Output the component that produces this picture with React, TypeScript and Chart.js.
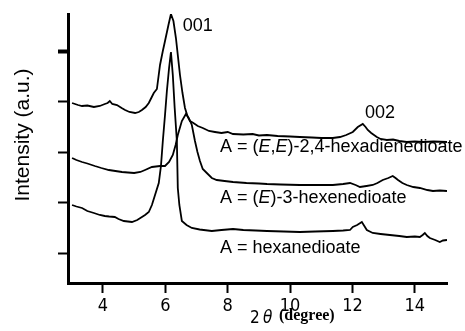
import React, { useEffect, useRef } from "react";
import { Chart, registerables } from "chart.js";

Chart.register(...registerables);

// ---- data (2θ in degrees, intensity in arbitrary units) ----
const hexadienedioateX = [3.01, 3.2, 3.33, 3.5, 3.71, 3.9, 4.06, 4.15, 4.22, 4.3, 4.45, 4.6, 4.71, 4.85, 5.03, 5.15, 5.25, 5.37, 5.47, 5.55, 5.63, 5.73, 5.83, 5.92, 5.99, 6.1, 6.18, 6.26, 6.34, 6.47, 6.55, 6.63, 6.72, 6.79, 6.9, 7.04, 7.2, 7.4, 7.59, 7.8, 8.0, 8.17, 8.5, 8.8, 9.0, 9.26, 9.6, 10.0, 10.31, 10.7, 11.0, 11.37, 11.6, 11.8, 12.01, 12.17, 12.33, 12.42, 12.49, 12.6, 12.78, 12.9, 13.1, 13.3, 13.5, 13.74, 14.0, 14.26, 14.6, 15.03];
const hexadienedioateY = [180, 178, 177, 177.5, 176, 177, 179, 180, 182, 179, 178, 175, 173, 171, 170, 171, 173, 176, 180, 185, 190, 194, 218, 232, 242, 258, 269, 262, 245, 208, 190, 175, 166, 162, 160, 157, 155, 152, 151, 150, 151, 149, 148.5, 149, 147.5, 148, 147, 146.5, 146, 145.5, 145, 145, 146, 148, 151, 156, 159, 156, 153, 150, 146, 144, 143, 143.5, 142, 141, 141.5, 141, 141.5, 141];

const hexenedioateX = [3.01, 3.15, 3.33, 3.5, 3.74, 3.95, 4.19, 4.4, 4.61, 4.8, 5.0, 5.2, 5.35, 5.57, 5.83, 5.99, 6.12, 6.24, 6.33, 6.4, 6.53, 6.66, 6.75, 6.85, 6.95, 7.03, 7.11, 7.2, 7.33, 7.49, 7.65, 7.9, 8.17, 8.6, 9.0, 9.26, 9.7, 10.31, 10.8, 11.37, 11.7, 11.92, 12.1, 12.24, 12.45, 12.65, 12.8, 12.97, 13.15, 13.29, 13.38, 13.46, 13.6, 13.74, 13.95, 14.16, 14.4, 14.58, 14.8, 15.03];
const hexenedioateY = [125, 123, 121, 119.5, 117, 115, 113, 112, 111, 110.5, 110, 111, 113, 116, 117, 117, 121, 128, 138, 148, 162, 169, 165, 158, 142, 131, 122, 114, 110, 105, 103, 102, 101, 100, 99.5, 99, 98.5, 98, 98, 98, 99, 100, 98, 96, 97, 98, 100, 103, 105, 107, 105, 103, 100, 98, 96, 95, 93, 92, 92.5, 92];

const hexanedioateX = [3.01, 3.15, 3.33, 3.5, 3.71, 3.9, 4.06, 4.2, 4.38, 4.5, 4.67, 4.8, 4.93, 5.1, 5.25, 5.35, 5.47, 5.57, 5.67, 5.79, 5.86, 5.92, 5.99, 6.05, 6.12, 6.18, 6.24, 6.3, 6.37, 6.4, 6.45, 6.53, 6.68, 6.85, 7.1, 7.49, 7.8, 8.17, 8.5, 8.9, 9.26, 9.8, 10.31, 10.8, 11.37, 11.7, 11.92, 12.01, 12.15, 12.3, 12.38, 12.46, 12.65, 12.9, 13.2, 13.5, 13.74, 14.0, 14.16, 14.25, 14.32, 14.4, 14.48, 14.65, 14.8, 14.9, 15.03];
const hexanedioateY = [78, 76.5, 75, 72, 70, 68, 67, 66.5, 66, 64, 62, 61.5, 61, 63, 66, 68, 71, 78, 88, 100, 117, 142, 168, 192, 215, 231, 208, 175, 142, 95, 78, 62, 58, 55, 53.5, 52, 53, 54, 53, 52.5, 52, 51.5, 51, 51.5, 52, 52.5, 53, 56, 58, 61, 57, 53, 50, 49, 48, 47, 46, 46.5, 46, 48, 50, 47, 45, 43, 41, 42.5, 43];

const xTickValues = [4, 6, 8, 10, 12, 14];
const yTickValues = [30, 80.5, 131, 181.5, 232];

// annotation texts and anchors (data units)
const peakLabels = ["001", "002"];
const peakLabelX = [6.56, 12.4];
const peakLabelY = [252.5, 165.5];

type Seg = { t: string; i: boolean };
const seriesLabels: Seg[][] = [
  [{ t: "A = (", i: false }, { t: "E", i: true }, { t: ",", i: false }, { t: "E", i: true }, { t: ")-2,4-hexadienedioate", i: false }],
  [{ t: "A = (", i: false }, { t: "E", i: true }, { t: ")-3-hexenedioate", i: false }],
  [{ t: "A = hexanedioate", i: false }],
];
const seriesLabelX = [7.75, 7.75, 7.75];
const seriesLabelY = [131, 80, 30];

const SANS = '"Liberation Sans", Arial, sans-serif';
const NARROW = '"Liberation Sans Narrow", "DejaVu Sans Condensed", "Liberation Sans", sans-serif';
const SERIF = '"Liberation Serif", "Times New Roman", serif';

const textPlugin = {
  id: "textPlugin",
  afterDraw(chart: any) {
    const ctx = chart.ctx as CanvasRenderingContext2D;
    const xs = chart.scales.x;
    const ys = chart.scales.y;
    const area = chart.chartArea;
    ctx.save();
    ctx.fillStyle = "#000";
    ctx.textBaseline = "alphabetic";
    ctx.textAlign = "left";

    // peak labels
    ctx.font = `18px ${SANS}`;
    peakLabels.forEach((t, k) => {
      ctx.fillText(t, xs.getPixelForValue(peakLabelX[k]), ys.getPixelForValue(peakLabelY[k]));
    });

    // series labels with italic E
    seriesLabels.forEach((segs, k) => {
      let px = xs.getPixelForValue(seriesLabelX[k]);
      const py = ys.getPixelForValue(seriesLabelY[k]);
      segs.forEach((s) => {
        ctx.font = `${s.i ? "italic " : ""}18px ${SANS}`;
        ctx.fillText(s.t, px, py);
        px += ctx.measureText(s.t).width;
      });
    });

    // y axis title
    ctx.save();
    ctx.translate(area.left - 45, area.top + 121);
    ctx.rotate(-Math.PI / 2);
    ctx.textAlign = "center";
    ctx.textBaseline = "middle";
    ctx.font = `21px ${SANS}`;
    ctx.fillText("Intensity (a.u.)", 0, 0);
    ctx.restore();

    // x axis title
    const bx = area.left + 182;
    const by = area.bottom + 40;
    ctx.font = `17px ${NARROW}`;
    ctx.fillText("2", bx, by);
    ctx.font = `italic 17px ${NARROW}`;
    ctx.fillText("θ", bx + 13, by);
    ctx.font = `bold 16px ${SERIF}`;
    ctx.fillText("(degree)", bx + 29, by - 3);
    ctx.restore();
  },
};

function toPoints(xs: number[], ys: number[]) {
  return xs.map((x, i) => ({ x, y: ys[i] }));
}

export default function App() {
  const canvasRef = useRef<HTMLCanvasElement | null>(null);

  useEffect(() => {
    document.body.style.margin = "0";
    const canvas = canvasRef.current;
    if (!canvas) return;
    const lineStyle = {
      borderColor: "#000",
      borderWidth: 1.8,
      pointRadius: 0,
      tension: 0,
      fill: false,
    };
    const chart = new Chart(canvas, {
      type: "line",
      data: {
        datasets: [
          { label: "(E,E)-2,4-hexadienedioate", data: toPoints(hexadienedioateX, hexadienedioateY), ...lineStyle },
          { label: "(E)-3-hexenedioate", data: toPoints(hexenedioateX, hexenedioateY), ...lineStyle },
          { label: "hexanedioate", data: toPoints(hexanedioateX, hexanedioateY), ...lineStyle },
        ],
      },
      options: {
        animation: false,
        responsive: true,
        maintainAspectRatio: false,
        layout: { padding: { left: 0, top: 14, right: 18, bottom: 0 } },
        plugins: { legend: { display: false }, tooltip: { enabled: false } },
        scales: {
          x: {
            type: "linear",
            min: 2.88,
            max: 15.03,
            afterBuildTicks: (scale: any) => {
              scale.ticks = xTickValues.map((v) => ({ value: v }));
            },
            afterFit: (scale: any) => {
              scale.height = 48;
            },
            ticks: {
              color: "#000",
              padding: 3,
              maxRotation: 0,
              autoSkip: false,
              font: { family: NARROW, size: 18 },
              callback: (v: any) => String(v),
            },
            grid: {
              drawOnChartArea: false,
              drawTicks: true,
              tickLength: 10,
              tickWidth: 2,
              tickColor: "#000",
              color: "#000",
            },
            border: { display: true, color: "#000", width: 3 },
          },
          y: {
            type: "linear",
            min: 0,
            max: 269,
            afterBuildTicks: (scale: any) => {
              scale.ticks = yTickValues.map((v) => ({ value: v }));
            },
            afterFit: (scale: any) => {
              scale.width = 68;
            },
            ticks: { display: false },
            grid: {
              drawOnChartArea: false,
              drawTicks: true,
              tickLength: 10,
              tickWidth: (c: any) => (c.index === yTickValues.length - 1 ? 4 : 2),
              tickColor: "#000",
              color: "#000",
            },
            border: { display: true, color: "#000", width: 3 },
          },
        },
      },
      plugins: [textPlugin],
    });
    return () => chart.destroy();
  }, []);

  return (
    <div style={{ position: "fixed", left: 0, top: 0, width: 465, height: 331, background: "#fff" }}>
      <canvas ref={canvasRef} />
    </div>
  );
}
